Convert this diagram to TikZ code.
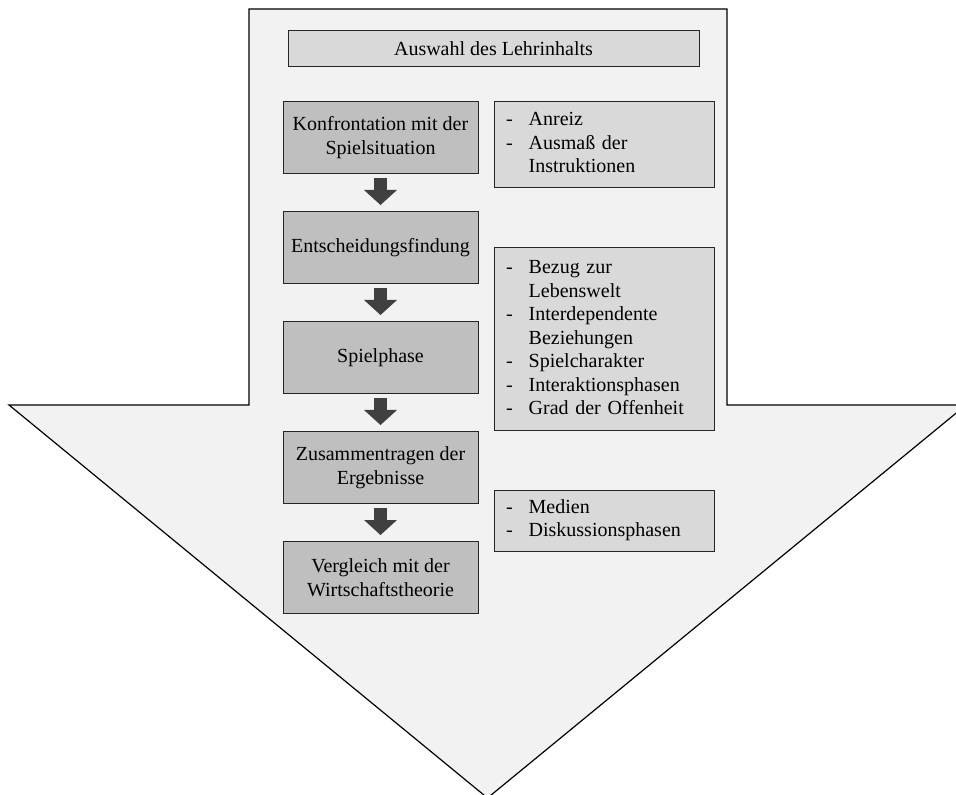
\documentclass[tikz,border=0pt]{standalone}
\usepackage{fontspec}
\setmainfont{Liberation Serif}
\usetikzlibrary{positioning,arrows.meta}
\definecolor{bigfill}{HTML}{F2F2F2}
\definecolor{stagefill}{HTML}{BFBFBF}
\definecolor{notefill}{HTML}{D9D9D9}
\definecolor{darkarrow}{HTML}{404040}
\tikzset{
	basics/.style={draw=black!85, line width=0.5pt, font=\fontsize{10}{11.75}\selectfont},
	bigarrow/.style={draw=black, line width=0.6pt, fill=bigfill, line join=miter},
	topic/.style={rectangle, basics, minimum width=205.5pt, minimum height=18pt, fill=notefill},
	stage/.style={rectangle, basics, minimum width=97.5pt, minimum height=36pt, align=center, fill=stagefill},
	note/.style={rectangle, basics, text width=98pt, inner xsep=6pt, align=left, fill=notefill},
	downarrow/.style={draw=darkarrow, line width=6.5pt, -{Triangle[width=16.5pt,length=7.5pt,line width=0pt]}, shorten <=2pt, shorten >=3pt},
}
\newcommand{\dashlist}[1]{\begin{tabular}{@{}l@{\hspace{8pt}}l@{}}#1\end{tabular}}

\begin{document}
\begin{tikzpicture}[x=0.5pt, y=-0.5pt]
\clip (0,0) rectangle (956,795);
\filldraw [bigarrow] (249,9) -- (727,9) -- (727,405) -- (966,405) -- (487.5,798) -- (9,405) -- (249,405) -- cycle;
\node (auswahl) [topic] at (493.5,49) {Auswahl des Lehrinhalts};
\node (k1) [stage] at (380.5,137.5) {Konfrontation mit der\\Spielsituation};
\node (k2) [stage, below=18.5pt of k1] {Entscheidungsfindung};
\node (k3) [stage, below=18.5pt of k2] {Spielphase};
\node (k4) [stage, below=18.5pt of k3] {Zusammentragen der\\Ergebnisse};
\node (k5) [stage, below=18.5pt of k4] {Vergleich mit der\\Wirtschaftstheorie};
\node (r1) [note, minimum height=43pt, right=7.5pt of k1.north east, anchor=north west]
	{\dashlist{- & Anreiz\\ - & Ausmaß der\\ & Instruktionen}};
\node (r2) [note, minimum height=91.5pt, right=7.5pt of k2.east, anchor=north west]
	{\dashlist{- & Bezug zur\\ & Lebenswelt\\ - & Interdependente\\ & Beziehungen\\ - & Spielcharakter\\ - & Interaktionsphasen\\ - & Grad der Offenheit}};
\node (r3) [note, minimum height=30.5pt, below=29pt of r2.south west, anchor=north west]
	{\dashlist{- & Medien\\ - & Diskussionsphasen}};
\foreach \i/\j in {k1/k2,k2/k3,k3/k4,k4/k5}
\draw [downarrow] (\i) -- (\j);
\end{tikzpicture}
\end{document}
